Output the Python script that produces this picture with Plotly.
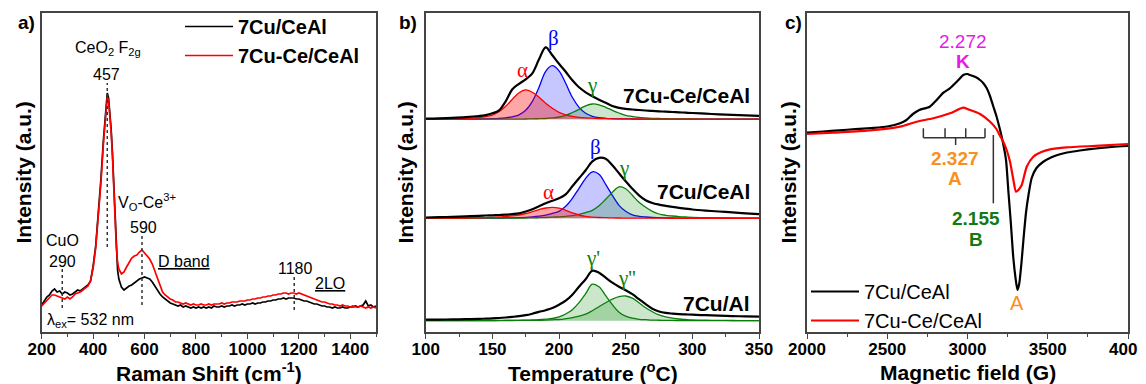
import plotly.graph_objects as go

FONT = "Liberation Sans, Arial, sans-serif"
SERIF = "Liberation Serif, Times New Roman, serif"
PAGE_OFF = 8                      # browser default body margin
FW, FH = 1146 - PAGE_OFF, 384 - PAGE_OFF
PLOT_TOP, PLOT_BOT = 13, 332      # page pixel rows of the plot frames


def px(xp):
    """page x pixel -> paper fraction"""
    return (xp - PAGE_OFF) / FW


def py(yp):
    """page y pixel -> paper fraction"""
    return (PLOT_BOT - yp) / (PLOT_BOT - PLOT_TOP)


# ---------------- Panel a: Raman spectra ----------------
RAMAN_SHIFT = list(range(200, 460, 10)) + [455, 460, 465, 470, 475, 480, 485, 490, 495] + list(range(500, 1510, 10))
RAMAN_7CU_CEAL = [
    27, 31, 35, 37, 41, 43, 40, 41, 38, 40, 39, 37, 38, 40, 42, 41, 43, 45, 47, 51, 66, 86, 115, 152, 192, 230,
    239, 234, 220, 203, 180, 150, 113, 82, 62,
    53, 45, 42, 44, 46, 47, 49, 51, 53, 54, 55, 54, 53, 50, 46, 41, 38, 35, 33, 31,
    29, 28, 27, 26, 27, 25, 26, 25, 24, 25, 24, 25, 24, 25, 24, 25, 24, 26, 25, 25,
    26, 25, 26, 26, 27, 26, 27, 27, 28, 27, 28, 28, 29, 28, 29, 29, 30, 30, 31, 31,
    32, 32, 33, 33, 34, 33, 34, 34, 34, 33, 33, 32, 31, 31, 30, 29, 28, 28, 27, 26,
    26, 25, 25, 24, 25, 24, 24, 25, 24, 24, 25, 25, 26, 25, 26, 27, 31, 26, 27, 25, 26]
RAMAN_7CUCE_CEAL = [
    26, 29, 32, 35, 37, 37, 36, 35, 34, 33, 35, 33, 35, 38, 39, 40, 42, 44, 46, 51, 64, 84, 112, 148, 188, 226,
    235, 231, 218, 200, 176, 146, 112, 86, 70,
    63, 58, 60, 65, 70, 74, 76, 77, 80, 82, 79, 76, 73, 68, 61, 52, 45, 40, 37, 35,
    33, 32, 30, 30, 29, 28, 29, 28, 27, 28, 27, 27, 28, 27, 27, 28, 27, 28, 28, 28,
    29, 28, 29, 29, 30, 30, 30, 31, 31, 31, 32, 32, 33, 33, 34, 34, 35, 35, 36, 36,
    37, 37, 38, 38, 39, 39, 38, 39, 39, 38, 39, 38, 37, 36, 35, 34, 33, 32, 31, 30,
    30, 29, 28, 28, 27, 27, 26, 27, 26, 26, 25, 26, 25, 25, 26, 25, 24, 25, 24, 25, 24]
RAMAN_MARK_X = [280, 455, 590, 1182]
RAMAN_MARK_Y0 = [24, 85, 27, 22]
RAMAN_MARK_Y1 = [64, 249, 97, 55]

# ---------------- Panel b: H2-TPR ----------------
T_GRID = [100, 110, 120, 130, 140] + list(range(145, 305, 5)) + [310, 320, 330, 340, 350]
OFFSETS = [212.7, 113.7, 11.3]   # top, middle, bottom stacking baselines
TOP_BLACK = [0.7, 1.0, 1.5, 2.2, 3.3, 4.2, 6, 9, 18, 30, 35.5, 40, 46, 60, 72, 64, 55.5, 47.5, 39, 32, 27, 23, 19.5, 16.5,
             13.3, 11.5, 10.4, 9.8, 9.3, 8.8, 8.4, 8, 7.6, 7.3, 7, 6.6, 6.3, 5.6, 5, 4.5, 4, 3.5]
TOP_ALPHA = [0.3, 0.4, 0.6, 1.0, 1.8, 2.6, 4.2, 7.5, 13, 20, 26.5, 29.5, 27, 22, 16, 11, 7, 4.5, 3, 2, 1.4, 1.1, 0.8, 0.7,
             0.5, 0.45, 0.4, 0.35, 0.3, 0.27, 0.25, 0.22, 0.2, 0.18, 0.15, 0.13, 0.12, 0.1, 0.08, 0.06, 0.05, 0.04]
TOP_BETA = [0.1, 0.1, 0.15, 0.2, 0.3, 0.4, 0.6, 0.9, 1.5, 2.5, 4.5, 9, 18, 32, 48, 53.6, 48.5, 36, 22, 12, 6, 3, 1.6, 1.0,
            0.7, 0.5, 0.4, 0.3, 0.25, 0.2, 0.18, 0.15, 0.13, 0.12, 0.1, 0.1, 0.1, 0.08, 0.06, 0.05, 0.04, 0.03]
TOP_GAMMA = [0, 0, 0.05, 0.08, 0.1, 0.12, 0.15, 0.18, 0.2, 0.22, 0.25, 0.3, 0.4, 0.6, 0.8, 1.4, 2.3, 4, 6.8, 10, 13.5, 15.3,
             14.5, 12, 9, 6.3, 4, 2.8, 1.8, 1.3, 1, 0.8, 0.6, 0.5, 0.4, 0.35, 0.3, 0.2, 0.15, 0.12, 0.1, 0.1]
MID_BLACK = [0.8, 1.1, 1.5, 2, 2.5, 2.8, 3, 3.3, 3.6, 4.2, 5, 6.8, 9, 12, 15, 17.5, 20, 24, 32, 40, 48, 57, 60.5, 59.5,
             53, 45, 37, 29.5, 23, 18, 15.3, 13.7, 12.5, 11.4, 10.4, 9.6, 8.8, 7.7, 6.8, 5.9, 5, 4.2]
MID_ALPHA = [0.1, 0.15, 0.2, 0.3, 0.5, 0.7, 1, 1.4, 1.8, 2.5, 3.3, 4.8, 6.7, 8.7, 10.3, 11, 10.2, 8, 5.5, 3.3, 2, 1.2, 0.8,
             0.6, 0.4, 0.3, 0.2, 0.18, 0.15, 0.12, 0.1, 0.1, 0.08, 0.07, 0.06, 0.05, 0.05, 0.04, 0.03, 0.03, 0.02, 0.02]
MID_BETA = [0, 0, 0.05, 0.1, 0.15, 0.2, 0.25, 0.3, 0.35, 0.5, 0.7, 1, 1.5, 2.2, 3.2, 5, 7, 12, 20, 30, 40, 46.5, 44, 34,
            23, 13, 7, 3.5, 2, 1.3, 0.8, 0.6, 0.4, 0.3, 0.25, 0.2, 0.2, 0.15, 0.1, 0.08, 0.05, 0.05]
MID_GAMMA = [0, 0, 0, 0.05, 0.08, 0.1, 0.12, 0.15, 0.18, 0.2, 0.25, 0.3, 0.4, 0.6, 0.8, 1.1, 1.5, 2, 2.7, 4, 5.7, 8, 12.5,
             19, 26, 31.5, 29.5, 23, 16, 11, 7, 4.3, 3, 2.3, 1.7, 1.3, 1, 0.6, 0.4, 0.25, 0.15, 0.1]
BOT_BLACK = [1.0, 1.1, 1.3, 1.5, 1.8, 2, 2.3, 2.7, 3.2, 3.8, 4.5, 5.5, 7, 8.8, 10.5, 12.7, 16, 20, 26, 34, 41.5, 50, 48, 43,
             38, 34, 30.5, 26.5, 21.5, 16.5, 12, 9.2, 7.8, 7.1, 6.6, 6.3, 6, 5.5, 5, 4.6, 4.3, 4]
BOT_G1 = [0, 0, 0, 0.05, 0.1, 0.15, 0.2, 0.25, 0.3, 0.35, 0.4, 0.5, 0.7, 1, 1.5, 2.2, 3.8, 6.7, 11, 18, 27, 36.5, 34, 25,
          16, 8.5, 4.5, 2.5, 1.4, 1, 0.6, 0.45, 0.3, 0.25, 0.2, 0.15, 0.1, 0.08, 0.05, 0.03, 0.02, 0]
BOT_G2 = [0, 0, 0, 0.05, 0.08, 0.1, 0.12, 0.15, 0.18, 0.2, 0.25, 0.3, 0.35, 0.45, 0.6, 0.9, 1.2, 2, 3, 4.5, 6.5, 10, 14, 18,
          21.5, 24, 24.7, 22.5, 18, 13, 9, 5.8, 3.8, 2.6, 1.7, 1.2, 0.8, 0.45, 0.3, 0.2, 0.12, 0.1]

# ---------------- Panel c: EPR ----------------
EPR_B_BLACK = [2000, 2100, 2200, 2300, 2400, 2500, 2580, 2620, 2660, 2700, 2765, 2808, 2850, 2890, 2933, 2974, 3000, 3016,
               3050, 3078, 3100, 3120, 3140, 3160, 3180, 3200, 3220, 3240, 3255, 3270, 3285, 3300, 3311, 3322, 3335, 3350,
               3365, 3380, 3400, 3430, 3470, 3520, 3560, 3620, 3700, 3800, 3900, 4000]
EPR_I_BLACK = [199.3, 200.5, 201.7, 202.8, 204, 205.5, 208.7, 212, 218, 222, 225.3, 232, 239.3, 243.7, 250.3, 257, 258, 257,
               255, 252, 248.5, 243.7, 236, 226, 216, 204, 190, 172, 140, 109, 75, 53, 42, 48, 67, 95,
               120, 137, 154, 164, 170, 174.5, 177, 179.5, 181.5, 183.5, 185, 186]
EPR_B_RED = [2000, 2164, 2372, 2579, 2683, 2787, 2891, 2974, 3016, 3078, 3141, 3180, 3203, 3223, 3244, 3265, 3286, 3302,
             3317, 3338, 3369, 3410, 3460, 3514, 3617, 3825, 4000]
EPR_I_RED = [198, 199.3, 201.3, 205.3, 210.3, 213.7, 218.7, 224.3, 222, 218, 210.3, 203, 196, 190.3, 182, 170.3, 152, 140.3,
             142, 147, 165.3, 175.3, 180, 182.7, 184.7, 186.3, 188]
RULER_B = [2725, 2860, 2989, 3109]
RULER_Y, RULER_TOP, RULER_MID_B, RULER_MID_LOW = 194.3, 203.7, 2926, 187
B_LINE_B, B_LINE_Y0, B_LINE_Y1 = 3161, 128.7, 197

fig = go.Figure()

# Panel a traces
fig.add_trace(go.Scatter(x=RAMAN_SHIFT, y=RAMAN_7CU_CEAL, mode="lines", name="7Cu/CeAl",
                         line=dict(color="black", width=1.7), xaxis="x", yaxis="y", legend="legend"))
fig.add_trace(go.Scatter(x=RAMAN_SHIFT, y=RAMAN_7CUCE_CEAL, mode="lines", name="7Cu-Ce/CeAl",
                         line=dict(color="#FF0000", width=1.7), xaxis="x", yaxis="y", legend="legend"))

# Panel b traces
RED, BLUE, GREEN = "#FF0000", "#0000FF", "#0A7D0A"
FILL_R, FILL_B, FILL_G = "rgba(255,0,0,0.35)", "rgba(0,0,255,0.22)", "rgba(0,128,0,0.2)"


def add_component(vals, offset, color, fill):
    fig.add_trace(go.Scatter(x=T_GRID, y=[offset] * len(T_GRID), mode="lines", line=dict(width=0, color=color),
                             showlegend=False, hoverinfo="skip", xaxis="x2", yaxis="y2"))
    fig.add_trace(go.Scatter(x=T_GRID, y=[offset + v for v in vals], mode="lines", fill="tonexty", fillcolor=fill,
                             line=dict(color=color, width=1.3, shape="spline"), showlegend=False,
                             xaxis="x2", yaxis="y2"))


def add_envelope(vals, offset):
    fig.add_trace(go.Scatter(x=T_GRID, y=[offset + v for v in vals], mode="lines",
                             line=dict(color="black", width=2.2, shape="spline"), showlegend=False,
                             xaxis="x2", yaxis="y2"))


add_component(TOP_BETA, OFFSETS[0], BLUE, FILL_B)
add_component(TOP_GAMMA, OFFSETS[0], GREEN, FILL_G)
add_component(TOP_ALPHA, OFFSETS[0], RED, FILL_R)
add_envelope(TOP_BLACK, OFFSETS[0])
add_component(MID_BETA, OFFSETS[1], BLUE, FILL_B)
add_component(MID_GAMMA, OFFSETS[1], GREEN, FILL_G)
add_component(MID_ALPHA, OFFSETS[1], RED, FILL_R)
add_envelope(MID_BLACK, OFFSETS[1])
add_component(BOT_G1, OFFSETS[2], GREEN, FILL_G)
add_component(BOT_G2, OFFSETS[2], GREEN, FILL_G)
add_envelope(BOT_BLACK, OFFSETS[2])

# Panel c traces
fig.add_trace(go.Scatter(x=EPR_B_BLACK, y=EPR_I_BLACK, mode="lines", name="7Cu/CeAl",
                         line=dict(color="black", width=2.2, shape="spline", smoothing=0.6),
                         xaxis="x3", yaxis="y3", legend="legend2"))
fig.add_trace(go.Scatter(x=EPR_B_RED, y=EPR_I_RED, mode="lines", name="7Cu-Ce/CeAl",
                         line=dict(color="#FF0000", width=2.2, shape="spline", smoothing=0.6),
                         xaxis="x3", yaxis="y3", legend="legend2"))

# Shapes: dotted marker lines (panel a), ruler & B line (panel c)
shapes = []
for mx, y0, y1 in zip(RAMAN_MARK_X, RAMAN_MARK_Y0, RAMAN_MARK_Y1):
    shapes.append(dict(type="line", xref="x", yref="y", x0=mx, x1=mx, y0=y0, y1=y1,
                       line=dict(color="#333", width=1.5, dash="dot")))
shapes.append(dict(type="line", xref="x3", yref="y3", x0=RULER_B[0], x1=RULER_B[-1], y0=RULER_Y, y1=RULER_Y,
                   line=dict(color="#333", width=1.5)))
for rb in RULER_B:
    shapes.append(dict(type="line", xref="x3", yref="y3", x0=rb, x1=rb, y0=RULER_Y, y1=RULER_TOP,
                       line=dict(color="#333", width=1.5)))
shapes.append(dict(type="line", xref="x3", yref="y3", x0=RULER_MID_B, x1=RULER_MID_B, y0=RULER_MID_LOW, y1=RULER_Y,
                   line=dict(color="#333", width=1.5)))
shapes.append(dict(type="line", xref="x3", yref="y3", x0=B_LINE_B, x1=B_LINE_B, y0=B_LINE_Y0, y1=B_LINE_Y1,
                   line=dict(color="#333", width=1.5)))

annotations = []


def ann(text, x, y, xref, yref, size, color="black", bold=False, xanchor="center", angle=0, family=FONT):
    annotations.append(dict(text=text, x=x, y=y, xref=xref, yref=yref, showarrow=False, xanchor=xanchor,
                            yanchor="middle", textangle=angle,
                            font=dict(family=family, size=size, color=color, weight="bold" if bold else "normal")))


# panel a labels
ann("a)", px(26), py(22.7), "paper", "paper", 19, bold=True)
ann("CeO<sub>2</sub> F<sub>2g</sub>", 459, 283.7, "x", "y", 16)
ann("457", 452, 258, "x", "y", 16)
ann("V<sub>O</sub>-Ce<sup>3+</sup>", 608, 130.3, "x", "y", 16)
ann("590", 595, 104.7, "x", "y", 16)
ann("CuO", 280, 91.3, "x", "y", 16)
ann("290", 280, 70.3, "x", "y", 16)
ann("<u>D band</u>", 754, 70.3, "x", "y", 16)
ann("1180", 1185, 63.7, "x", "y", 16)
ann("<u>2LO</u>", 1321, 48.7, "x", "y", 16)
ann("λ<sub>ex</sub>= 532 nm", 213, 11.3, "x", "y", 16, xanchor="left")

# panel b labels
ann("b)", px(408), py(22.7), "paper", "paper", 19, bold=True)
ann("α", 172.8, 262, "x2", "y2", 21, RED, family=SERIF)
ann("β", 195.7, 293.7, "x2", "y2", 21, BLUE, family=SERIF)
ann("γ", 224.5, 247, "x2", "y2", 21, GREEN, family=SERIF)
ann("7Cu-Ce/CeAl", 295.8, 236.3, "x2", "y2", 21, bold=True)
ann("β", 227.5, 185.3, "x2", "y2", 21, BLUE, family=SERIF)
ann("γ", 248.7, 163.7, "x2", "y2", 21, GREEN, family=SERIF)
ann("α", 192, 140.3, "x2", "y2", 21, RED, family=SERIF)
ann("7Cu/CeAl", 308.2, 140.3, "x2", "y2", 21, bold=True)
ann("γ'", 225.7, 73.7, "x2", "y2", 21, GREEN, family=SERIF)
ann("γ''", 250.8, 53.7, "x2", "y2", 21, GREEN, family=SERIF)
ann("7Cu/Al", 318.3, 28.7, "x2", "y2", 21, bold=True)

# panel c labels
MAGENTA, ORANGE, DGREEN = "#E619E6", "#F7901E", "#137A13"
ann("c)", px(793), py(22.7), "paper", "paper", 19, bold=True)
ann("2.272", 2974, 290.3, "x3", "y3", 19, MAGENTA)
ann("K", 2974, 270.3, "x3", "y3", 19, MAGENTA, bold=True)
ann("2.327", 2922, 173.7, "x3", "y3", 19, ORANGE, bold=True)
ann("A", 2922, 153.7, "x3", "y3", 19, ORANGE, bold=True)
ann("2.155", 3051, 113.7, "x3", "y3", 19, DGREEN, bold=True)
ann("B", 3051, 92.7, "x3", "y3", 19, DGREEN, bold=True)
ann("A", 3310, 28.7, "x3", "y3", 20, ORANGE)

# axis titles
for xc in (23, 405, 788):
    ann("Intensity (a.u.)", px(xc), 0.5, "paper", "paper", 21, bold=True, angle=-90)
ann("Raman Shift (cm<sup>-1</sup>)", px(208.5), py(372), "paper", "paper", 21, bold=True)
ann("Temperature (<sup>o</sup>C)", px(593), py(372), "paper", "paper", 21, bold=True)
ann("Magnetic field (G)", px(967.5), py(372.5), "paper", "paper", 21, bold=True)

AXCOL = "#444"
XCOMMON = dict(showline=True, linecolor=AXCOL, linewidth=1.5, mirror=True, ticks="outside", ticklen=5, tickwidth=1.2,
               tickcolor=AXCOL, showgrid=False, zeroline=False, ticklabelstandoff=-4, ticklabeloverflow="allow",
               tickfont=dict(family=FONT, size=17, color="black", weight="bold"))
YCOMMON = dict(domain=[0, 1], range=[0, 319], showticklabels=False, ticks="", showline=True, linecolor=AXCOL,
               linewidth=1.5, mirror=True, showgrid=False, zeroline=False)

fig.update_layout(
    width=FW, height=FH,
    margin=dict(l=0, r=0, t=PLOT_TOP - PAGE_OFF, b=384 - PLOT_BOT, autoexpand=False),
    paper_bgcolor="white", plot_bgcolor="white",
    xaxis=dict(domain=[px(41.7), px(376)], range=[200, 1500], tick0=200, dtick=200, anchor="y",
               minor=dict(ticks="outside", ticklen=3, dtick=100, tickcolor=AXCOL), **XCOMMON),
    xaxis2=dict(domain=[px(425.7), px(759)], range=[100, 350], tick0=100, dtick=50, anchor="y2",
                minor=dict(ticks="outside", ticklen=3, dtick=25, tickcolor=AXCOL), **XCOMMON),
    xaxis3=dict(domain=[px(807), px(1128)], range=[2000, 4000], tick0=2000, dtick=500, anchor="y3",
                minor=dict(ticks="outside", ticklen=3, dtick=250, tickcolor=AXCOL), **XCOMMON),
    yaxis=dict(anchor="x", **YCOMMON),
    yaxis2=dict(anchor="x2", **YCOMMON),
    yaxis3=dict(anchor="x3", **YCOMMON),
    legend=dict(x=px(180), y=py(7), xanchor="left", yanchor="top", bgcolor="rgba(0,0,0,0)", itemwidth=48,
                traceorder="normal", font=dict(family=FONT, size=20, color="black", weight="bold"),
                tracegroupgap=0),
    legend2=dict(x=px(806), y=py(272), xanchor="left", yanchor="top", bgcolor="rgba(0,0,0,0)",
                 itemwidth=48, traceorder="normal", font=dict(family=FONT, size=20, color="black"),
                 tracegroupgap=0),
    shapes=shapes, annotations=annotations,
)

fig.write_html("out.html")
